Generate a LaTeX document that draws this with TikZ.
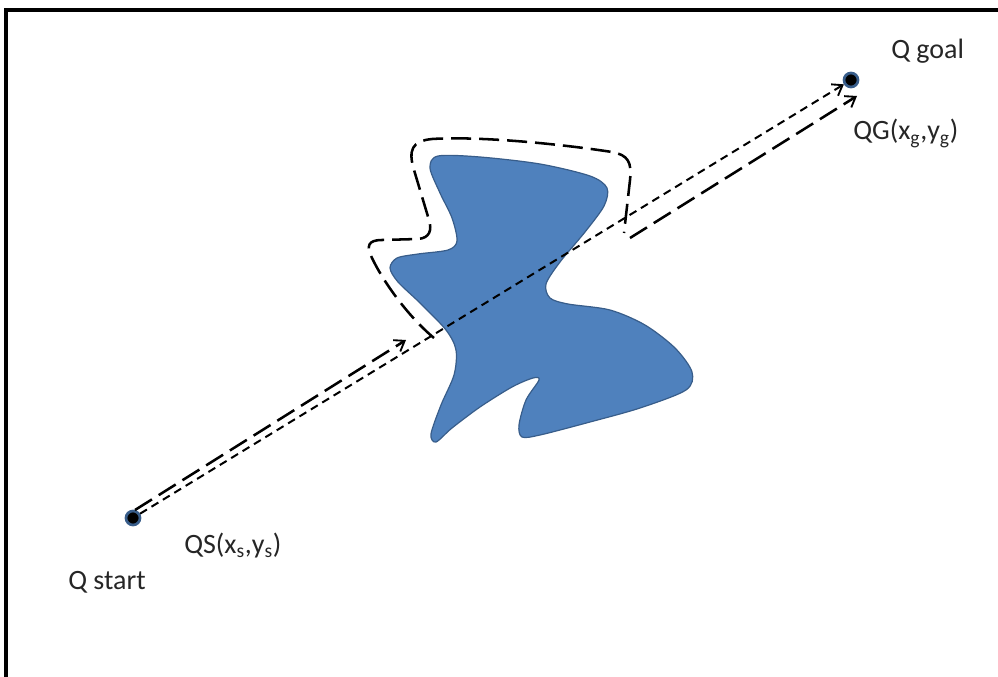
\documentclass[tikz,border=0pt]{standalone}
\usepackage{fontspec}
\setmainfont{Carlito}
\usetikzlibrary{arrows.meta,calc}
\definecolor{obfill}{HTML}{4F81BD}
\definecolor{obline}{HTML}{385D8A}
\definecolor{txt}{HTML}{262626}
\tikzset{
  frame/.style={line width=2.6pt,black},
  dotnode/.style={circle,fill=black,draw=obline,line width=2pt,minimum size=10.5pt,inner sep=0pt},
  shortdash/.style={line width=1.5pt,dash pattern=on 6pt off 4pt},
  longdash/.style={line width=1.9pt,dash pattern=on 15pt off 6pt},
  tip/.style={-{Straight Barb[length=7pt,width=10pt,line width=1.4pt]}},
  lbl/.style={font=\fontsize{21pt}{24pt}\selectfont,text=txt,inner sep=0pt,anchor=base west},
  obstacle/.style={fill=obfill,draw=obline,line width=0.9pt}
}
\begin{document}
\begin{tikzpicture}[x=0.75pt,y=-0.75pt]
\useasboundingbox (0,0) rectangle (998,677);
\fill[white] (0,0) rectangle (998,677);
\draw[frame] (6,680) -- (6,10) -- (1001,10);

% obstacle
\draw[obstacle] plot[smooth cycle,tension=0.5] coordinates {
 (438,156) (480,157) (540,164) (590,176) (607,188) (604,206)
 (585,232) (560,262) (546,284) (550,298) (568,304)
 (610,310) (645,325) (675,348) (692,372) (686,390)
 (640,408) (590,422) (540,435) (522,437) (519,425) (526,400) (539,380)
 (533,378) (512,387) (480,407) (452,428) (436,442) (431,434)
 (441,405) (454,375) (456,350) (446,330) (420,303) (398,282) (390,268) (397,258)
 (418,254) (448,250) (457,241) (452,218) (440,193) (430,168)
};

% points
\node[dotnode] (qs) at (133,518) {};
\node[dotnode] (qg) at (851,80) {};

% straight short-dashed path
\draw[shortdash,tip] (qs) -- (qg);

% long-dashed path around obstacle
\coordinate (a0) at (135,510);
\coordinate (a1) at (406,340);
\draw[longdash,tip] (a0) -- (a1);
\coordinate (c0) at (434,338);
\coordinate (c1) at (624,233);
\draw[longdash] (c0) .. controls (410,318) and (385,285) .. (372,258)
  .. controls (366,246) and (368,240) .. (382,240)
  -- (418,239) .. controls (430,238) and (432,230) .. (429,220)
  -- (414,170) .. controls (408,150) and (412,141) .. (432,139)
  .. controls (480,136) and (560,144) .. (612,152)
  .. controls (628,155) and (632,162) .. (630,180)
  -- (c1);
\coordinate (b0) at (630,238);
\draw[longdash,tip] (b0) -- ($(qg)+(6,16)$);

% labels
\node[lbl] (lg) at (891,59) {Q goal};
\node[lbl] (lqg) at (853,140) {QG(x\textsubscript{g},y\textsubscript{g})};
\node[lbl] (lqs) at (184,553) {QS(x\textsubscript{s},y\textsubscript{s})};
\node[lbl] (lst) at (68,589) {Q start};
\end{tikzpicture}
\end{document}
